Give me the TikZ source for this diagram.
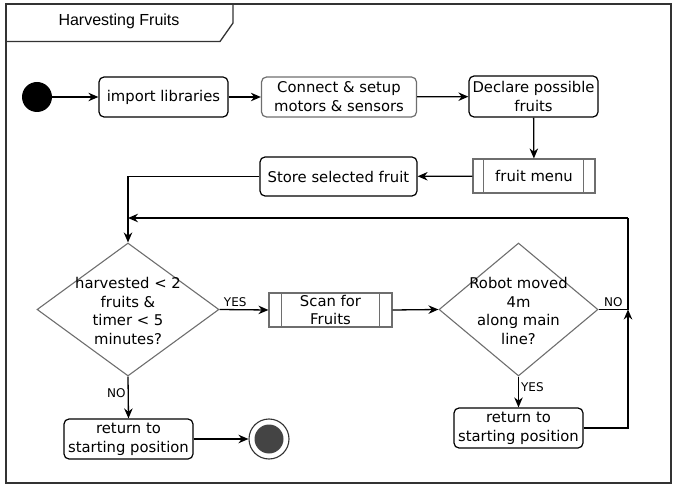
\documentclass[tikz,border=0pt]{standalone}
\usepackage{fontspec}
\setmainfont{DejaVu Sans}
\newfontfamily\titlefont{Liberation Sans}
\usepackage{tikz}
\usetikzlibrary{arrows.meta, shapes.geometric}
\definecolor{edgegray}{HTML}{6E6E6E}
\definecolor{framegray}{HTML}{333333}
\definecolor{endfill}{HTML}{444444}

\begin{document}
\begin{tikzpicture}[x=1pt, y=-1pt,
	body/.style={font=\fontsize{14.8}{18.8}\selectfont},
	tag/.style={font=\fontsize{12}{13}\selectfont, inner sep=2pt},
	act/.style={body, draw, line width=1.2pt, rounded corners=5pt, align=center, inner sep=0pt},
	sub/.style={body, draw=edgegray, line width=1.1pt, align=center, inner sep=0pt},
	decision/.style={diamond, draw=edgegray, line width=1.1pt, inner sep=0pt},
	arr/.style={line width=1.3pt, -{Stealth[length=10pt, width=8.5pt]}},
	plain/.style={line width=1.3pt}]
	\useasboundingbox (0,0) rectangle (677,486);
	\draw[framegray, line width=1.3pt] (6,4) rectangle (671,483);
	\draw[framegray, line width=1.3pt] (6,41.5) -- (220,41.5) -- (233,23) -- (233,4);
	\node[font=\titlefont\fontsize{16}{18}\selectfont] (title) at (119,21) {Harvesting Fruits};
	% top row
	\node[circle, fill=black, minimum size=30pt, inner sep=0pt] (start) at (37,97) {};
	\node[act, minimum width=129pt, minimum height=40pt] (imp) at (163.5,97) {import libraries};
	\node[act, draw=edgegray, minimum width=155pt, minimum height=40pt] (conn) at (339,97) {Connect \& setup\\motors \& sensors};
	\node[act, minimum width=129pt, minimum height=41pt] (decl) at (533.5,96.5) {Declare possible\\fruits};
	\node[sub, minimum width=122pt, minimum height=34pt] (menu) at (534,176) {fruit menu};
	\draw[edgegray, line width=1.1pt] ([xshift=11pt]menu.north west) -- ([xshift=11pt]menu.south west);
	\draw[edgegray, line width=1.1pt] ([xshift=-12pt]menu.north east) -- ([xshift=-12pt]menu.south east);
	\node[act, minimum width=157pt, minimum height=39pt] (store) at (338.5,176.5) {Store selected fruit};
	% decisions
	\node[decision, minimum width=182pt, minimum height=133pt] (d1) at (128,309.5) {};
	\node[body, align=center] (d1t) at (128,311) {harvested < 2\\fruits \&\\timer < 5\\minutes?};
	\node[sub, minimum width=123pt, minimum height=34pt] (scan) at (330.5,310) {Scan for\\Fruits};
	\draw[edgegray, line width=1.1pt] ([xshift=13pt]scan.north west) -- ([xshift=13pt]scan.south west);
	\draw[edgegray, line width=1.1pt] ([xshift=-13pt]scan.north east) -- ([xshift=-13pt]scan.south east);
	\node[decision, minimum width=159pt, minimum height=133pt] (d2) at (518.5,309.5) {};
	\node[body, align=center] (d2t) at (518.5,311) {Robot moved\\4m\\along main\\line?};
	\node[act, minimum width=129pt, minimum height=40pt] (ret1) at (128.5,439) {return to\\starting position};
	\node[act, minimum width=129pt, minimum height=40pt] (ret2) at (518.5,428) {return to\\starting position};
	\node[circle, draw=framegray, line width=1.1pt, minimum size=40pt, inner sep=0pt] (end) at (269,439) {};
	\node[circle, fill=endfill, minimum size=29pt, inner sep=0pt] (endin) at (end) {};
	\coordinate (loop) at (628,218);
	% connectors
	\draw[arr] (start) -- (imp);
	\draw[arr] (imp) -- (conn);
	\draw[arr] (conn) -- (decl);
	\draw[arr] (decl) -- (menu);
	\draw[arr] (menu) -- (store);
	\draw[arr] (store.west) -| (d1.north);
	\draw[arr] (loop) -- (loop -| d1.north);
	\draw[arr] (d1.east) -- (scan.west) node[tag, pos=0.32, above] {YES};
	\draw[arr] (scan.east) -- (d2.west);
	\draw[plain] (d2.east) -- (d2.east -| loop) node[tag, midway, above] {NO} -- (loop);
	\draw[arr] (d2.south) -- (ret2.north) node[tag, pos=0.35, right] {YES};
	\draw[arr] (ret2.east) -| (d2.east -| loop);
	\draw[arr] (d1.south) -- (ret1.north) node[tag, pos=0.4, left] {NO};
	\draw[arr] (ret1.east) -- (end.west);
\end{tikzpicture}
\end{document}
